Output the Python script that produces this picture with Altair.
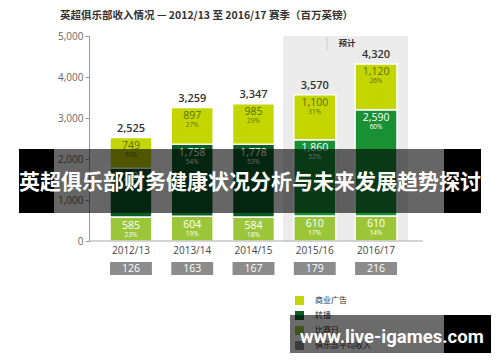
import altair as alt
import pandas as pd

years = ["2012/13", "2013/14", "2014/15", "2015/16", "2016/17"]
projected = [False, False, False, True, True]
matchday = [585, 604, 584, 610, 610]
matchday_pct = [23, 19, 18, 17, 14]
broadcast = [1191, 1758, 1778, 1860, 2590]
broadcast_pct = [47, 54, 53, 52, 60]
commercial = [749, 897, 985, 1100, 1120]
commercial_pct = [30, 27, 29, 31, 26]
totals = [2525, 3259, 3347, 3570, 4320]
avg_club = [126, 163, 167, 179, 216]

title_text = "英超俱乐部收入情况 — 2012/13 至 2016/17 赛季（百万英镑）"
projected_label = "预计"
legend_labels = ["商业广告", "转播", "比赛日", "俱乐部平均收入"]
legend_colors = ["#C4D600", "#0B5E26", "#9CC63A", "#8C8C8C"]
banner_text = "英超俱乐部财务健康状况分析与未来发展趋势探讨"
watermark_text = "www.live-igames.com"

C_COM = "#C4D600"
C_BRO = "#0B5E26"
C_BRO_P = "#1A9035"
C_MAT = "#9CC63A"

rows = []
for i, y in enumerate(years):
    segs = [("比赛日", matchday[i], matchday_pct[i]),
            ("转播", broadcast[i], broadcast_pct[i]),
            ("商业广告", commercial[i], commercial_pct[i])]
    s = 0
    for name, v, p in segs:
        key = name
        if name == "转播" and projected[i]:
            key = "转播预计"
        rows.append(dict(year=y, seg=name, key=key, start=s, end=s + v,
                         value=v, pct=f"{p}%"))
        s += v
seg_df = pd.DataFrame(rows)
tot_df = pd.DataFrame(dict(year=years, total=totals, avg=avg_club))
one = pd.DataFrame({"a": [0]})

FONT = "Open Sans"
CJK = "Noto Sans CJK SC"

xscale = alt.Scale(domain=years, range=[21, 308], paddingInner=0.316, paddingOuter=0)
yscale = alt.Scale(domain=[0, 5000], nice=False)

X = alt.X("year:N", scale=xscale, sort=years,
          axis=alt.Axis(title=None, ticks=False, domain=False, labelPadding=4,
                        labelFont=FONT, labelFontSize=10, labelColor="#444",
                        labelAngle=0))

proj_box = alt.Chart(one).mark_rect(color="#ECECEC").encode(
    x=alt.value(194), x2=alt.value(319), y=alt.value(0), y2=alt.value(205))

bars = alt.Chart(seg_df).mark_bar(stroke="white", strokeWidth=1.5).encode(
    x=X,
    y=alt.Y("start:Q", scale=yscale,
            axis=alt.Axis(title=None, values=[0, 1000, 2000, 3000, 4000, 5000],
                          format=",.0f", grid=False, tickSize=4, labelPadding=2,
                          domainColor="#999", tickColor="#999",
                          labelFont=FONT, labelFontSize=10, labelColor="#666")),
    y2="end:Q",
    color=alt.Color("key:N", legend=None,
                    scale=alt.Scale(domain=["比赛日", "转播", "转播预计", "商业广告"],
                                    range=[C_MAT, C_BRO, C_BRO_P, C_COM])),
)

txt_color = alt.condition(alt.datum.seg == "商业广告", alt.value("#5F6E00"), alt.value("white"))
seg_val = alt.Chart(seg_df).mark_text(font=FONT, fontSize=10.5, dy=8.5, baseline="middle").encode(
    x=X, y=alt.Y("end:Q", scale=yscale), text=alt.Text("value:Q", format=","), color=txt_color)
seg_pct = alt.Chart(seg_df).mark_text(font=FONT, fontSize=6.5, dy=17.5, baseline="middle").encode(
    x=X, y=alt.Y("end:Q", scale=yscale), text="pct:N", color=txt_color)

tot_txt = alt.Chart(tot_df).mark_text(font=FONT, fontSize=11, dy=-8.5, baseline="middle",
                                      color="#333", fontWeight=600).encode(
    x=X, y=alt.Y("total:Q", scale=yscale), text=alt.Text("total:Q", format=","))

avg_box = alt.Chart(tot_df).mark_rect(color="#8C8C8C").encode(
    x=X, y=alt.value(226), y2=alt.value(239))
avg_txt = alt.Chart(tot_df).mark_text(font=FONT, fontSize=10.5, color="white", baseline="middle").encode(
    x=X, y=alt.value(232.5), text="avg:Q")

x_rule = alt.Chart(one).mark_rule(color="#AAA", strokeWidth=1).encode(
    x=alt.value(0), x2=alt.value(334), y=alt.value(205))

sep = alt.Chart(one).mark_rule(color="#CCC", strokeWidth=1).encode(
    x=alt.value(238), y=alt.value(1), y2=alt.value(14))
proj_txt = alt.Chart(one).mark_text(font=CJK, fontSize=8.5, fontWeight="bold", color="#333",
                                    align="center", baseline="middle").encode(
    x=alt.value(258), y=alt.value(7), text=alt.value(projected_label))

title = alt.Chart(one).mark_text(font=CJK, fontSize=10.5, fontWeight="bold", color="#333",
                                 align="left", baseline="middle").encode(
    x=alt.value(-29), y=alt.value(-20), text=alt.value(title_text))

legend_layers = []
for i, (lab, col) in enumerate(zip(legend_labels, legend_colors)):
    yy = 264.5 + 15 * i
    legend_layers.append(alt.Chart(one).mark_square(size=81, opacity=1, color=col).encode(
        x=alt.value(210.5), y=alt.value(yy)))
    legend_layers.append(alt.Chart(one).mark_text(font=CJK, fontSize=8, color="#333",
                                                  align="left", baseline="middle").encode(
        x=alt.value(226), y=alt.value(yy), text=alt.value(lab)))

banner_bg = alt.Chart(one).mark_rect(color="black", opacity=0.6).encode(
    x=alt.value(-70), x2=alt.value(392), y=alt.value(113), y2=alt.value(177))
banner_l = alt.Chart(one).mark_rect(color="black").encode(
    x=alt.value(-70), x2=alt.value(-35), y=alt.value(113), y2=alt.value(177))
banner_r = alt.Chart(one).mark_rect(color="black").encode(
    x=alt.value(355), x2=alt.value(392), y=alt.value(113), y2=alt.value(177))
banner_txt = alt.Chart(one).mark_text(font=CJK, fontSize=21, fontWeight="bold", color="white",
                                      align="center", baseline="middle").encode(
    x=alt.value(161), y=alt.value(147), text=alt.value(banner_text))

wm_bg = alt.Chart(one).mark_rect(color="black", opacity=0.58).encode(
    x=alt.value(201), x2=alt.value(355), y=alt.value(279), y2=alt.value(317))
wm_r = alt.Chart(one).mark_rect(color="black").encode(
    x=alt.value(355), x2=alt.value(402), y=alt.value(279), y2=alt.value(317))
wm_txt = alt.Chart(one).mark_text(font="Roboto", fontSize=18.5, fontWeight="bold", color="white",
                                  align="left", baseline="alphabetic").encode(
    x=alt.value(211), y=alt.value(307), text=alt.value(watermark_text))

chart = alt.layer(
    proj_box, bars, seg_val, seg_pct, tot_txt, avg_box, avg_txt, x_rule, sep, proj_txt, title,
    *legend_layers, banner_bg, banner_l, banner_r, banner_txt, wm_bg, wm_r, wm_txt
).properties(
    width=334, height=205,
    autosize=alt.AutoSizeParams(type="none"),
    padding={"left": 81, "top": 28, "right": 69, "bottom": 113},
).configure_view(stroke=None)

chart.save("out.html", embed_options={"renderer": "svg", "actions": False})
